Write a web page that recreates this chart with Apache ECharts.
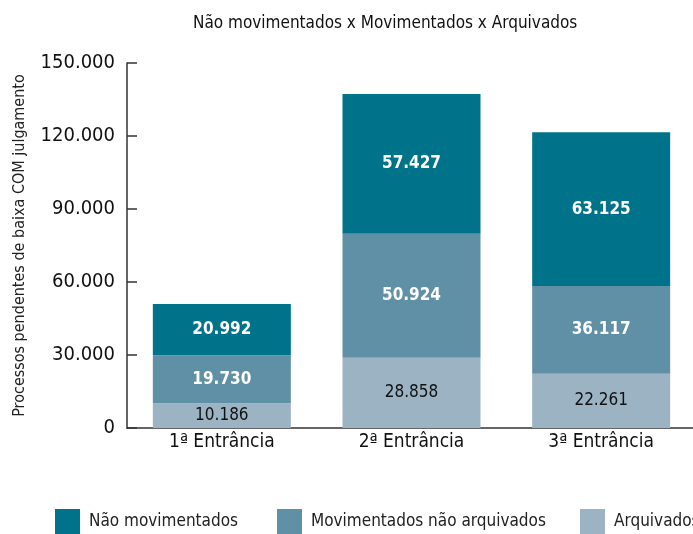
<!DOCTYPE html>
<html>
<head>
<meta charset="utf-8">
<script src="https://cdn.jsdelivr.net/npm/echarts@6/dist/echarts.min.js"></script>
<style>
  html, body { margin: 0; padding: 0; background: #fff; }
  #main { width: 693px; height: 534px; }
</style>
</head>
<body>
<div id="main"></div>
<script>
const categories = ['1ª Entrância', '2ª Entrância', '3ª Entrância'];
const naoMovimentados = [20992, 57427, 63125];
const movimentadosNaoArquivados = [19730, 50924, 36117];
const arquivados = [10186, 28858, 22261];

const FONT = '"Liberation Sans Narrow", "DejaVu Sans Condensed", sans-serif';
const colors = ['#00738b', '#6090a6', '#9bb3c3'];

const fmt = (v) => String(v).replace(/\B(?=(\d{3})+(?!\d))/g, '.');

const chart = echarts.init(document.getElementById('main'));

const legendItem = (name, left) => ({
  data: [name],
  left,
  top: 509,
  padding: 0,
  itemWidth: 25,
  itemHeight: 25,
  itemGap: 0,
  icon: 'rect',
  selectedMode: false,
  textStyle: { fontFamily: FONT, fontSize: 17, color: '#222', padding: [0, 0, 0, 4] },
});

const segLabel = (color, weight) => ({
  show: true,
  formatter: (p) => fmt(p.value),
  fontFamily: FONT,
  fontSize: 17,
  fontWeight: weight,
  color,
});

chart.setOption({
  animation: false,
  color: colors,
  title: {
    text: 'Não movimentados x Movimentados x Arquivados',
    left: 188,
    top: 10,
    textStyle: { fontFamily: FONT, fontSize: 17, fontWeight: 'normal', color: '#111' },
  },
  legend: [
    legendItem('Não movimentados', 55),
    legendItem('Movimentados não arquivados', 277),
    legendItem('Arquivados', 580),
  ],
  grid: { left: 127, right: -3, top: 63, bottom: 106, outerBoundsMode: 'none', containLabel: false },
  xAxis: {
    type: 'category',
    data: categories,
    axisLine: { lineStyle: { color: '#333', width: 1.5 } },
    axisTick: { inside: true, length: 12, lineStyle: { color: '#333', width: 1.5 } },
    axisLabel: { fontFamily: FONT, fontSize: 19, color: '#111', margin: 5 },
  },
  yAxis: {
    type: 'value',
    min: 0,
    max: 150000,
    interval: 30000,
    name: 'Processos pendentes de baixa COM julgamento',
    nameLocation: 'middle',
    nameGap: 99,
    nameTextStyle: { fontFamily: FONT, fontSize: 16, color: '#222' },
    axisLine: { show: true, lineStyle: { color: '#333', width: 1.5 } },
    axisTick: { show: true, inside: true, length: 10, lineStyle: { color: '#333', width: 1.5 } },
    splitLine: { show: false },
    axisLabel: { fontFamily: FONT, fontSize: 20, color: '#111', margin: 12, formatter: fmt },
  },
  series: [
    {
      name: 'Arquivados',
      type: 'bar',
      stack: 'total',
      data: arquivados,
      barWidth: 138,
      itemStyle: { color: colors[2] },
      label: segLabel('#111', 'normal'),
    },
    {
      name: 'Movimentados não arquivados',
      type: 'bar',
      stack: 'total',
      data: movimentadosNaoArquivados,
      itemStyle: { color: colors[1] },
      label: segLabel('#fff', 'bold'),
    },
    {
      name: 'Não movimentados',
      type: 'bar',
      stack: 'total',
      data: naoMovimentados,
      itemStyle: { color: colors[0] },
      label: segLabel('#fff', 'bold'),
    },
  ],
});
</script>
</body>
</html>
